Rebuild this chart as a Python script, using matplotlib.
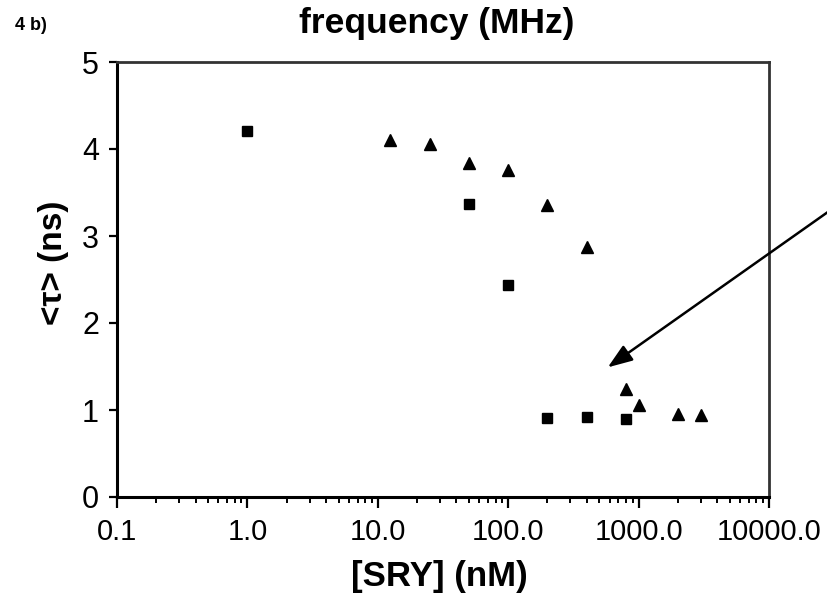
import matplotlib
matplotlib.use('Agg')
from matplotlib import pyplot as plt

plt.rcParams['font.family'] = ['Liberation Sans', 'DejaVu Sans']

# [SRY] in nM, mean lifetime <tau> in ns
sq_conc = [1.0, 50, 100, 200, 400, 800]
sq_tau = [4.21, 3.37, 2.44, 0.91, 0.92, 0.90]

tri_conc = [12.5, 25, 50, 100, 200, 400, 800, 1000, 2000, 3000]
tri_tau = [4.10, 4.06, 3.84, 3.76, 3.36, 2.87, 1.24, 1.06, 0.95, 0.94]

x_ticks = [0.1, 1, 10, 100, 1000, 10000]
x_tick_labels = ['0.1', '1.0', '10.0', '100.0', '1000.0', '10000.0']
y_ticks = [0, 1, 2, 3, 4, 5]

fig = plt.figure(figsize=(8.27, 5.98), dpi=100)
ax = fig.add_axes([117 / 827, 1 - 497 / 598, 652 / 827, 435 / 598])

ax.plot(sq_conc, sq_tau, linestyle='none', marker='s', markersize=7,
        color='black')
ax.plot(tri_conc, tri_tau, linestyle='none', marker='^', markersize=8,
        color='black')

ax.set_xscale('log')
ax.set_xlim(0.1, 10000)
ax.set_ylim(0, 5)
ax.set_xticks(x_ticks)
ax.set_xticklabels(x_tick_labels)
ax.set_yticks(y_ticks)

ax.tick_params(axis='x', which='major', direction='out', length=8, width=1.6,
               pad=7, labelsize=21)
ax.tick_params(axis='x', which='minor', direction='out', length=4, width=1.4)
ax.tick_params(axis='y', which='major', direction='out', length=6, width=1.6,
               pad=7, labelsize=22)

for side in ['left', 'bottom']:
    ax.spines[side].set_linewidth(2.2)
    ax.spines[side].set_color('black')
for side in ['top', 'right']:
    ax.spines[side].set_linewidth(2.0)
    ax.spines[side].set_color('#333333')

ax.set_xlabel('[SRY] (nM)', fontsize=25, fontweight='bold', va='center')
ax.xaxis.set_label_coords(0.494, -0.182)
ax.set_ylabel('<τ> (ns)', fontsize=24, fontweight='bold', va='center')
ax.yaxis.set_label_coords(-0.098, 0.538)

fig.text(437 / 827, 1 - 24 / 598, 'frequency (MHz)', fontsize=25.5,
         fontweight='bold', ha='center', va='center')
fig.text(15 / 827, 1 - 25 / 598, '4 b)', fontsize=13, fontweight='bold',
         ha='left', va='center')

# arrow coming in from the right edge
ax.annotate('', xy=(580, 1.49), xycoords='data',
            xytext=(1.02, 0.664), textcoords='figure fraction',
            arrowprops=dict(arrowstyle='-|>,head_length=0.6,head_width=0.22',
                            color='black', lw=1.8, mutation_scale=25,
                            shrinkA=0, shrinkB=0),
            annotation_clip=False)

fig.savefig('out.png', dpi=100)
